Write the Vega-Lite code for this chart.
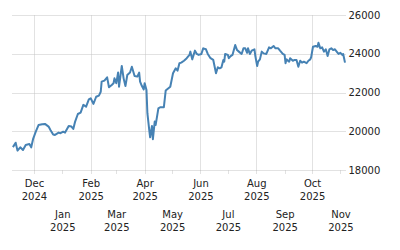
{
  "$schema": "https://vega.github.io/schema/vega-lite/v6.json",
  "width": 333,
  "height": 155,
  "autosize": {"type": "none"},
  "padding": {"left": 12, "top": 15, "right": 55, "bottom": 80},
  "background": "white",
  "config": {
    "view": {"stroke": null},
    "axisX": {
      "title": null,
      "orient": "bottom",
      "domain": false,
      "grid": true,
      "gridColor": "#c4c4c4",
      "gridDash": [1, 1],
      "gridWidth": 1,
      "ticks": true,
      "tickColor": "#c4c4c4",
      "tickDash": [1, 1],
      "tickSize": 4,
      "labelExpr": "[timeFormat(datum.value, '%b'), timeFormat(datum.value, '%Y')]",
      "labelFont": "DejaVu Sans",
      "labelFontSize": 10,
      "labelColor": "#222222",
      "labelLineHeight": 13,
      "labelOverlap": false,
      "labelBound": false,
      "labelFlush": false
    }
  },
  "data": {"values": [
    {"date": "2024-11-08", "value": 19180},
    {"date": "2024-11-11", "value": 19410},
    {"date": "2024-11-13", "value": 19000},
    {"date": "2024-11-16", "value": 19170},
    {"date": "2024-11-19", "value": 19030},
    {"date": "2024-11-22", "value": 19290},
    {"date": "2024-11-26", "value": 19340},
    {"date": "2024-11-28", "value": 19170},
    {"date": "2024-11-30", "value": 19590},
    {"date": "2024-12-03", "value": 19980},
    {"date": "2024-12-06", "value": 20320},
    {"date": "2024-12-10", "value": 20360},
    {"date": "2024-12-13", "value": 20380},
    {"date": "2024-12-17", "value": 20240},
    {"date": "2024-12-19", "value": 20070},
    {"date": "2024-12-22", "value": 19830},
    {"date": "2024-12-24", "value": 19810},
    {"date": "2024-12-28", "value": 19930},
    {"date": "2024-12-30", "value": 19900},
    {"date": "2025-01-02", "value": 19980},
    {"date": "2025-01-04", "value": 19930},
    {"date": "2025-01-08", "value": 20270},
    {"date": "2025-01-11", "value": 20240},
    {"date": "2025-01-13", "value": 20120},
    {"date": "2025-01-15", "value": 20500},
    {"date": "2025-01-18", "value": 20890},
    {"date": "2025-01-21", "value": 20960},
    {"date": "2025-01-24", "value": 21360},
    {"date": "2025-01-27", "value": 21270},
    {"date": "2025-01-30", "value": 21650},
    {"date": "2025-02-01", "value": 21700},
    {"date": "2025-02-02", "value": 21610},
    {"date": "2025-02-04", "value": 21410},
    {"date": "2025-02-07", "value": 21780},
    {"date": "2025-02-10", "value": 21840},
    {"date": "2025-02-12", "value": 22040},
    {"date": "2025-02-13", "value": 22560},
    {"date": "2025-02-16", "value": 22610},
    {"date": "2025-02-19", "value": 22780},
    {"date": "2025-02-21", "value": 22270},
    {"date": "2025-02-24", "value": 22390},
    {"date": "2025-02-26", "value": 22480},
    {"date": "2025-02-27", "value": 22730},
    {"date": "2025-03-01", "value": 22480},
    {"date": "2025-03-03", "value": 23030},
    {"date": "2025-03-04", "value": 22300},
    {"date": "2025-03-07", "value": 23370},
    {"date": "2025-03-09", "value": 22730},
    {"date": "2025-03-11", "value": 22330},
    {"date": "2025-03-13", "value": 22900},
    {"date": "2025-03-16", "value": 23030},
    {"date": "2025-03-18", "value": 23330},
    {"date": "2025-03-21", "value": 22850},
    {"date": "2025-03-24", "value": 22820},
    {"date": "2025-03-26", "value": 23030},
    {"date": "2025-03-27", "value": 22560},
    {"date": "2025-03-29", "value": 22330},
    {"date": "2025-03-31", "value": 22160},
    {"date": "2025-04-01", "value": 22480},
    {"date": "2025-04-03", "value": 22130},
    {"date": "2025-04-04", "value": 20930},
    {"date": "2025-04-06", "value": 20070},
    {"date": "2025-04-07", "value": 19690},
    {"date": "2025-04-09", "value": 20270},
    {"date": "2025-04-10", "value": 19590},
    {"date": "2025-04-12", "value": 20500},
    {"date": "2025-04-13", "value": 20320},
    {"date": "2025-04-16", "value": 21180},
    {"date": "2025-04-18", "value": 21240},
    {"date": "2025-04-22", "value": 21240},
    {"date": "2025-04-24", "value": 22100},
    {"date": "2025-04-27", "value": 22220},
    {"date": "2025-04-29", "value": 22300},
    {"date": "2025-05-02", "value": 22990},
    {"date": "2025-05-05", "value": 23250},
    {"date": "2025-05-07", "value": 23130},
    {"date": "2025-05-09", "value": 23510},
    {"date": "2025-05-11", "value": 23540},
    {"date": "2025-05-14", "value": 23640},
    {"date": "2025-05-17", "value": 23770},
    {"date": "2025-05-20", "value": 23940},
    {"date": "2025-05-21", "value": 24110},
    {"date": "2025-05-23", "value": 23710},
    {"date": "2025-05-26", "value": 24160},
    {"date": "2025-05-28", "value": 23990},
    {"date": "2025-05-30", "value": 23940},
    {"date": "2025-06-02", "value": 23990},
    {"date": "2025-06-04", "value": 24280},
    {"date": "2025-06-07", "value": 24230},
    {"date": "2025-06-09", "value": 23990},
    {"date": "2025-06-12", "value": 23770},
    {"date": "2025-06-15", "value": 23680},
    {"date": "2025-06-18", "value": 22990},
    {"date": "2025-06-20", "value": 23300},
    {"date": "2025-06-22", "value": 23250},
    {"date": "2025-06-24", "value": 23300},
    {"date": "2025-06-26", "value": 23680},
    {"date": "2025-06-27", "value": 23590},
    {"date": "2025-06-28", "value": 23990},
    {"date": "2025-07-01", "value": 23940},
    {"date": "2025-07-02", "value": 23770},
    {"date": "2025-07-04", "value": 23880},
    {"date": "2025-07-06", "value": 23940},
    {"date": "2025-07-09", "value": 24450},
    {"date": "2025-07-11", "value": 24190},
    {"date": "2025-07-13", "value": 24110},
    {"date": "2025-07-16", "value": 23990},
    {"date": "2025-07-18", "value": 24280},
    {"date": "2025-07-20", "value": 24280},
    {"date": "2025-07-22", "value": 24050},
    {"date": "2025-07-23", "value": 24280},
    {"date": "2025-07-25", "value": 23990},
    {"date": "2025-07-27", "value": 24160},
    {"date": "2025-07-30", "value": 24230},
    {"date": "2025-07-31", "value": 23880},
    {"date": "2025-08-02", "value": 23370},
    {"date": "2025-08-03", "value": 23590},
    {"date": "2025-08-05", "value": 23710},
    {"date": "2025-08-07", "value": 24110},
    {"date": "2025-08-09", "value": 24020},
    {"date": "2025-08-12", "value": 23990},
    {"date": "2025-08-15", "value": 24330},
    {"date": "2025-08-17", "value": 24280},
    {"date": "2025-08-20", "value": 24400},
    {"date": "2025-08-22", "value": 24280},
    {"date": "2025-08-25", "value": 24280},
    {"date": "2025-08-27", "value": 24160},
    {"date": "2025-08-30", "value": 23990},
    {"date": "2025-09-01", "value": 23940},
    {"date": "2025-09-02", "value": 23510},
    {"date": "2025-09-03", "value": 23710},
    {"date": "2025-09-06", "value": 23590},
    {"date": "2025-09-07", "value": 23770},
    {"date": "2025-09-10", "value": 23640},
    {"date": "2025-09-12", "value": 23680},
    {"date": "2025-09-14", "value": 23680},
    {"date": "2025-09-16", "value": 23330},
    {"date": "2025-09-18", "value": 23640},
    {"date": "2025-09-20", "value": 23540},
    {"date": "2025-09-22", "value": 23590},
    {"date": "2025-09-25", "value": 23510},
    {"date": "2025-09-27", "value": 23640},
    {"date": "2025-09-29", "value": 23710},
    {"date": "2025-09-30", "value": 23820},
    {"date": "2025-10-02", "value": 24360},
    {"date": "2025-10-05", "value": 24400},
    {"date": "2025-10-07", "value": 24360},
    {"date": "2025-10-08", "value": 24570},
    {"date": "2025-10-10", "value": 24280},
    {"date": "2025-10-12", "value": 24330},
    {"date": "2025-10-14", "value": 24110},
    {"date": "2025-10-16", "value": 24230},
    {"date": "2025-10-18", "value": 23880},
    {"date": "2025-10-20", "value": 24230},
    {"date": "2025-10-22", "value": 24280},
    {"date": "2025-10-24", "value": 24190},
    {"date": "2025-10-26", "value": 24230},
    {"date": "2025-10-29", "value": 24050},
    {"date": "2025-10-30", "value": 23990},
    {"date": "2025-11-01", "value": 24050},
    {"date": "2025-11-03", "value": 23940},
    {"date": "2025-11-04", "value": 23990},
    {"date": "2025-11-05", "value": 23770},
    {"date": "2025-11-06", "value": 23540}
  ]},
  "encoding": {
    "y": {
      "field": "value",
      "type": "quantitative",
      "scale": {"domain": [18000, 26000], "nice": false, "zero": false},
      "axis": {
        "title": null,
        "orient": "right",
        "domain": false,
        "ticks": false,
        "grid": true,
        "gridColor": "#c4c4c4",
        "gridDash": [1, 1],
        "gridWidth": 1,
        "values": [18000, 20000, 22000, 24000, 26000],
        "format": "d",
        "labelFont": "DejaVu Sans",
        "labelFontSize": 10,
        "labelColor": "#222222",
        "labelPadding": 3
      }
    }
  },
  "resolve": {"axis": {"x": "independent"}},
  "layer": [
    {
      "mark": {"type": "line", "opacity": 0},
      "encoding": {
        "x": {
          "field": "date",
          "type": "temporal",
          "scale": {"domain": [{"year": 2024, "month": 11, "date": 7}, {"year": 2025, "month": 11, "date": 6}], "nice": false},
          "axis": {
            "orient": "bottom",
            "labelPadding": 4,
            "values": [
              {"year": 2024, "month": 12, "date": 1},
              {"year": 2025, "month": 2, "date": 1},
              {"year": 2025, "month": 4, "date": 1},
              {"year": 2025, "month": 6, "date": 1},
              {"year": 2025, "month": 8, "date": 1},
              {"year": 2025, "month": 10, "date": 1}
            ]
          }
        }
      }
    },
    {
      "mark": {"type": "line", "color": "#4682b4", "strokeWidth": 2, "strokeJoin": "round"},
      "encoding": {
        "x": {
          "field": "date",
          "type": "temporal",
          "axis": {
            "orient": "bottom",
            "labelPadding": 35,
            "values": [
              {"year": 2025, "month": 1, "date": 1},
              {"year": 2025, "month": 3, "date": 1},
              {"year": 2025, "month": 5, "date": 1},
              {"year": 2025, "month": 7, "date": 1},
              {"year": 2025, "month": 9, "date": 1},
              {"year": 2025, "month": 11, "date": 1}
            ]
          }
        }
      }
    }
  ]
}
